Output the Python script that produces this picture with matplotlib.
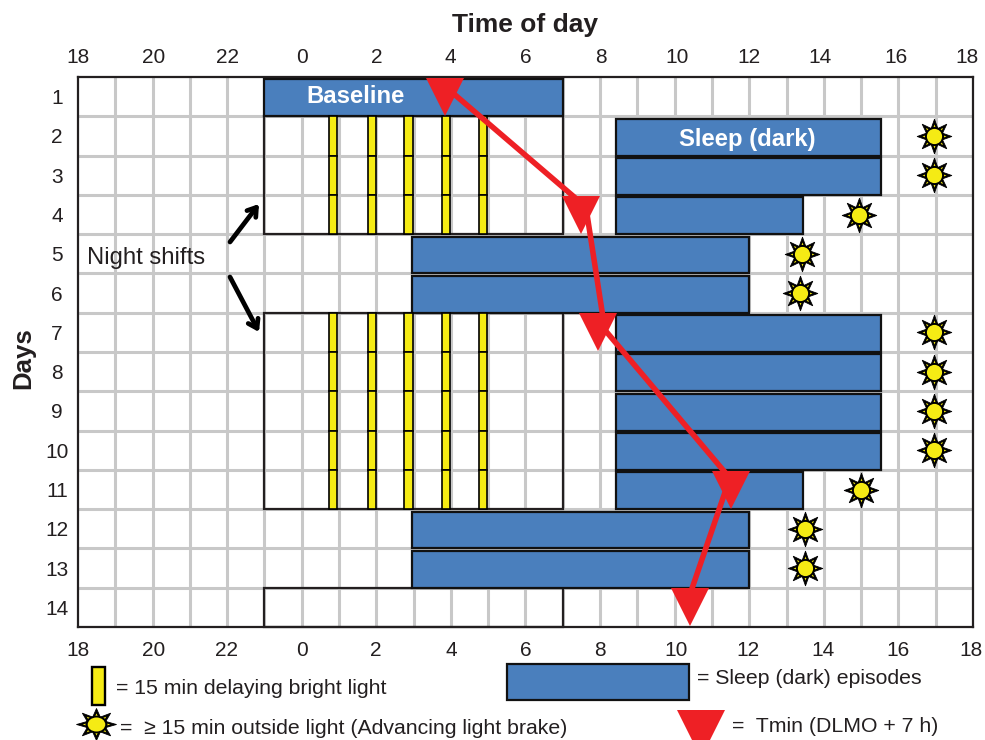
import matplotlib
matplotlib.use("Agg")
import matplotlib.pyplot as plt
from matplotlib.markers import MarkerStyle
from matplotlib.patches import Rectangle
from matplotlib.transforms import Affine2D, ScaledTranslation

plt.rcParams["font.family"] = ["Liberation Sans", "DejaVu Sans"]

BLUE = "#4a7fbd"
YELLOW = "#f5eb14"
RED = "#ee2025"
GRAY = "#c8c8c8"
INK = "#231f20"

# sleep episodes, hours are counted on from 18:00 so 7 am = 31
sleep_rows = [1, 2, 3, 4, 5, 6, 7, 8, 9, 10, 11, 12, 13]
sleep_start = [23, 32.42, 32.42, 32.42, 26.95, 26.95, 32.42, 32.42, 32.42, 32.42, 32.42, 26.95, 26.95]
sleep_end = [31, 39.52, 39.52, 37.45, 36, 36, 39.52, 39.52, 39.52, 39.52, 37.45, 36, 36]

# bright light pulses on the night shifts
light_hours = [24.84, 25.88, 26.87, 27.87, 28.86]
light_rows = [2, 3, 4, 7, 8, 9, 10, 11]

# outside light
sun_rows = [2, 3, 4, 5, 6, 7, 8, 9, 10, 11, 12, 13]
sun_hours = [40.95, 40.95, 38.95, 37.42, 37.35, 40.95, 40.95, 40.95, 40.95, 39.0, 37.5, 37.5]

# Tmin markers and the red line between them
tmin_rows = [1, 4, 7, 11, 14]
tmin_hours = [27.84, 31.49, 31.95, 35.5, 34.4]
line_rows = [0.63, 3.81, 6.94, 10.71, 13.81]
line_hours = [27.71, 31.62, 32.13, 35.48, 34.36]

# night shift boxes: first row, last row
shift_first = [2, 7, 14]
shift_last = [4, 11, 14]

hour_ticks = list(range(18, 43, 2))
hour_labels = ["18", "20", "22", "0", "2", "4", "6", "8", "10", "12", "14", "16", "18"]
top_nudge = [0, 1.5, 0, 0, 0, -1, 0, 1, 2, 0, -4, -2, -6]
bottom_nudge = [0, 1.5, -1, 0, -1, 0, 0, 0, 1, -1, -1, 0, -2]
day_ticks = list(range(1, 15))

W, H = 985, 740
L, R, T, B = 78, 973, 77, 627

fig = plt.figure(figsize=(W / 100, H / 100), dpi=100)
ax = fig.add_axes([L / W, 1 - B / H, (R - L) / W, (B - T) / H])
ax.set_xlim(18, 42)
ax.set_ylim(14.5, 0.5)

# overlay in pixels for the legend and notes
over = fig.add_axes([0, 0, 1, 1], zorder=5)
over.set_xlim(0, W)
over.set_ylim(H, 0)
over.axis("off")

for h in range(19, 42):
    ax.axvline(h, color=GRAY, lw=2.2, zorder=1)
for r in range(1, 14):
    ax.axhline(r + 0.5, color=GRAY, lw=2.2, zorder=1)

for first, last in zip(shift_first, shift_last):
    ax.add_patch(Rectangle((23, first - 0.5), 8, last - first + 1, fill=False,
                           ec=INK, lw=1.6, zorder=2, clip_on=False))

for r, s, e in zip(sleep_rows, sleep_start, sleep_end):
    ax.add_patch(Rectangle((s, r - 0.44), e - s, 0.94, fc=BLUE, ec="#111111", lw=1.6, zorder=3))

for r in light_rows:
    for h in light_hours:
        ax.add_patch(Rectangle((h - 0.115, r - 0.5), 0.23, 1, fc=YELLOW, ec="#000000", lw=1.2, zorder=3))


def sun(a, x, y, k=1.0, stretch=1.0):
    star = MarkerStyle((8, 1, 0), transform=Affine2D().scale(stretch, 1))
    dot = MarkerStyle("o", transform=Affine2D().scale(stretch, 1))
    a.scatter(x, y, s=620 * k, marker=star, c="#000000", edgecolors="#000000", lw=0.6, zorder=4)
    a.scatter(x, y, s=300 * k, marker=star, c=YELLOW, lw=0, zorder=4.1)
    a.scatter(x, y, s=190 * k, marker=dot, c="#000000", lw=0, zorder=4.2)
    a.scatter(x, y, s=120 * k, marker=dot, c=YELLOW, lw=0, zorder=4.3)


sun(ax, sun_hours, sun_rows)

ax.plot(line_hours, line_rows, color=RED, lw=4, zorder=6, solid_joinstyle="miter")
ax.plot(tmin_hours, tmin_rows, ls="none", marker="v", ms=28, mfc=RED, mew=0, zorder=7, clip_on=False)

ax.text(25.43, 1, "Baseline", color="white", fontsize=17.2, fontweight="bold", ha="center", va="center", zorder=8)
ax.text(35.94, 2.08, "Sleep (dark)", color="white", fontsize=17.2, fontweight="bold", ha="center", va="center", zorder=8)

for s in ax.spines.values():
    s.set_linewidth(1.6)
    s.set_color(INK)
    s.set_zorder(2.5)

ax.set_xticks(hour_ticks)
ax.set_xticklabels(hour_labels)
ax.set_yticks(day_ticks)
ax.tick_params(axis="x", top=True, labeltop=True, bottom=True, labelbottom=True, length=0,
               labelsize=15, colors=INK, pad=10)
ax.tick_params(axis="y", length=0, labelsize=15, colors=INK, pad=15)
for tick, dt, db in zip(ax.xaxis.get_major_ticks(), top_nudge, bottom_nudge):
    tick.label2.set_transform(tick.label2.get_transform() + ScaledTranslation(dt / 100, -4 / 100, fig.dpi_scale_trans))
    tick.label1.set_transform(tick.label1.get_transform() + ScaledTranslation(db / 100, 0, fig.dpi_scale_trans))
for tick in ax.yaxis.get_major_ticks():
    tick.label1.set_ha("center")

over.text(525, 25, "Time of day", fontsize=19, fontweight="bold", color=INK, ha="center", va="center")
over.text(23, 358, "Days", fontsize=18.5, fontweight="bold", color=INK, rotation=90, ha="center", va="center")
over.text(87, 258, "Night shifts", fontsize=17.2, color=INK, ha="left", va="center")

for start, end in [((230, 242), (259, 204)), ((230, 277), (259, 332))]:
    over.annotate("", xy=end, xytext=start,
                  arrowprops=dict(arrowstyle="->,head_length=0.6,head_width=0.4", lw=3.4, color="#000000",
                                  shrinkA=0, shrinkB=0))

# legend
over.add_patch(Rectangle((92, 667), 13, 38, fc=YELLOW, ec="#000000", lw=1.7))
over.text(116, 689, "= 15 min delaying bright light", fontsize=15.3, color=INK, va="center")
sun(over, [96], [724], 0.85, 1.25)
over.text(120, 728, "=  \u2265 15 min outside light (Advancing light brake)", fontsize=15.3, color=INK, va="center")
over.add_patch(Rectangle((507, 664), 182, 36, fc=BLUE, ec="#111111", lw=1.6))
over.text(697, 679, "= Sleep (dark) episodes", fontsize=15.3, color=INK, va="center")
over.plot([700.5], [733.5], ls="none", marker="v", ms=34, mfc=RED, mew=0, clip_on=True)
over.text(732, 726, "=  Tmin (DLMO + 7 h)", fontsize=15.3, color=INK, va="center")

fig.savefig("out.png", dpi=100)
